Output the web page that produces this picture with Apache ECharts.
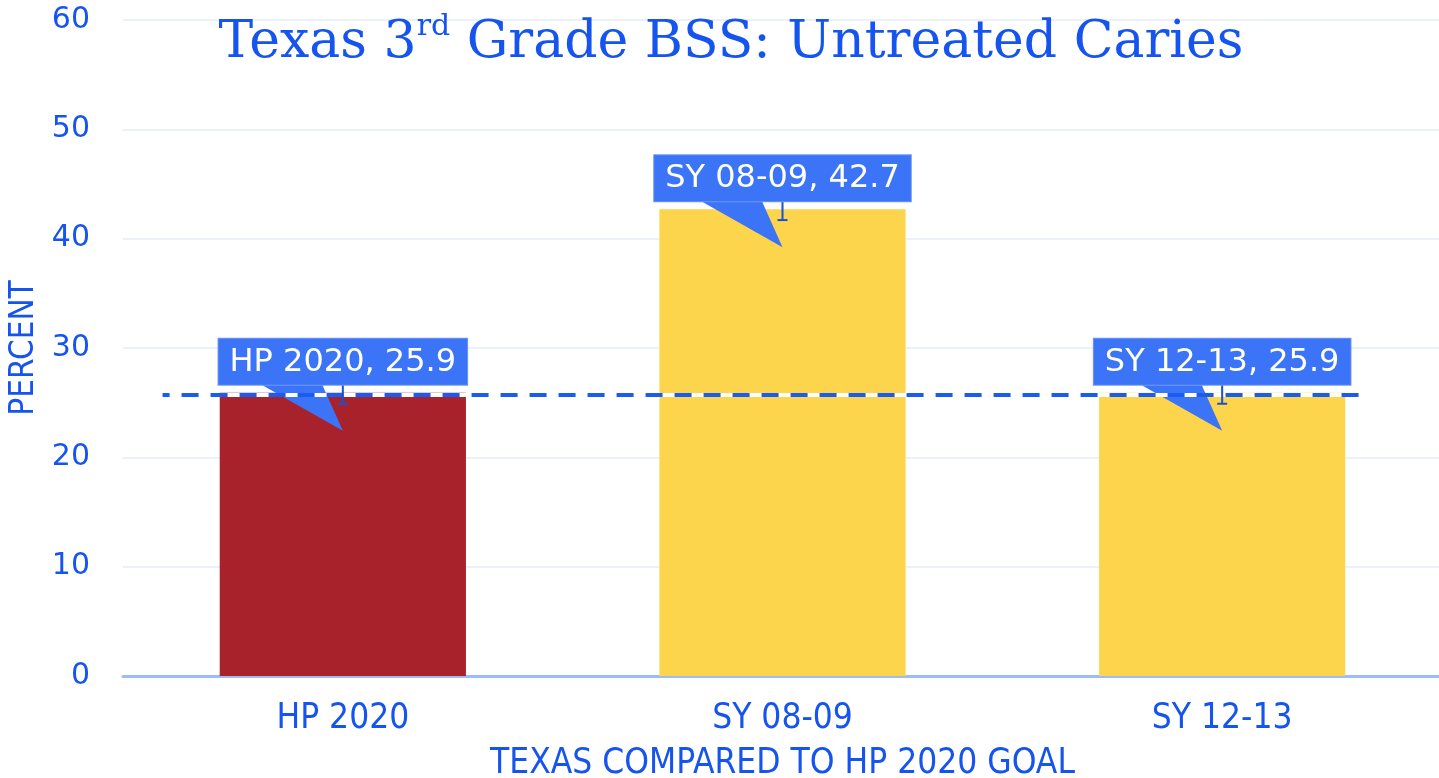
<!DOCTYPE html>
<html>
<head>
<meta charset="utf-8">
<script src="https://cdn.jsdelivr.net/npm/echarts@6/dist/echarts.min.js"></script>
<style>
  html, body { margin: 0; padding: 0; background: #fff; }
  #app { width: 1439px; height: 778px; }
</style>
</head>
<body>
<div id="app"></div>
<script>
var categories = ['HP 2020', 'SY 08-09', 'SY 12-13'];
var values = [25.9, 42.7, 25.9];
var errLow = [24.9, 41.7, 24.9];
var errHigh = [26.9, 43.7, 26.9];
var barColors = ['#a8222b', '#fdd54c', '#fdd54c'];
var goalValue = 25.7;
var goalLineX = [-0.41, 2.33];   // where the dashed goal line starts / ends (category index units)

var textBlue = '#1554ee';
var calloutBlue = '#3b74f6';

var myChart = echarts.init(document.getElementById('app'));

function renderCallout(part) {
  return function (params, api) {
    var i = api.value(0);
    var p = api.coord([i, api.value(1)]);
    if (part === 'arrow') {
      return {
        type: 'polygon',
        shape: { points: [[p[0] - 83, p[1] - 9], [p[0] - 21, p[1] - 9], [p[0], p[1] + 38]] },
        style: { fill: calloutBlue }
      };
    }
    return {
      type: 'text',
      style: {
        text: categories[i] + ', ' + values[i],
        x: p[0],
        y: p[1] - 8,
        align: 'center',
        verticalAlign: 'bottom',
        fill: '#fff',
        font: '32px "DejaVu Sans"',
        backgroundColor: calloutBlue,
        borderColor: '#6f98f7',
        borderWidth: 1,
        padding: [8, 11, 6, 11]
      }
    };
  };
}

var calloutData = values.map(function (v, i) { return [i, v]; });

myChart.setOption({
  backgroundColor: '#fff',
  animation: false,
  title: {
    left: 726,
    top: 7,
    textAlign: 'center',
    text: '{a|Texas 3}{sup|rd}{a| Grade BSS: Untreated Caries}',
    textStyle: {
      rich: {
        a: { fontFamily: '"DejaVu Serif"', fontWeight: 'normal', fontSize: 52, color: textBlue, lineHeight: 62 },
        sup: { fontFamily: '"DejaVu Serif"', fontWeight: 'normal', fontSize: 30, color: textBlue, verticalAlign: 'top', lineHeight: 62, padding: [0, 0, 22, 0] }
      }
    }
  },
  grid: { left: 123, right: -3, top: 20, bottom: 102, outerBoundsMode: 'none' },
  xAxis: [
    {
      type: 'category',
      data: categories,
      axisLine: { lineStyle: { color: '#9dbafa', width: 3 } },
      axisTick: { show: false },
      axisLabel: { color: textBlue, fontFamily: '"DejaVu Sans Condensed", "DejaVu Sans"', fontSize: 35, margin: 25 },
      name: 'TEXAS COMPARED TO HP 2020 GOAL',
      nameLocation: 'middle',
      nameGap: 70,
      nameTextStyle: { color: textBlue, fontFamily: '"DejaVu Sans Condensed", "DejaVu Sans"', fontSize: 35 }
    },
    { type: 'value', min: -0.5, max: 2.5, show: false }
  ],
  yAxis: {
    type: 'value',
    min: 0,
    max: 60,
    interval: 10,
    axisLine: { show: false },
    axisTick: { show: false },
    splitLine: { lineStyle: { color: '#ebf0fb', width: 2 } },
    axisLabel: { color: textBlue, fontFamily: '"DejaVu Sans"', fontSize: 30, margin: 33 },
    name: 'PERCENT',
    nameLocation: 'middle',
    nameGap: 80,
    nameTextStyle: { color: textBlue, fontFamily: '"DejaVu Sans Condensed", "DejaVu Sans"', fontSize: 33 }
  },
  series: [
    {
      type: 'bar',
      barWidth: '56%',
      z: 2,
      data: values.map(function (v, i) { return { value: v, itemStyle: { color: barColors[i] } }; })
    },
    {
      type: 'custom',
      z: 3,
      silent: true,
      renderItem: renderCallout('arrow'),
      data: calloutData
    },
    {
      type: 'line',
      xAxisIndex: 1,
      z: 4,
      symbol: 'none',
      silent: true,
      lineStyle: { color: '#fff', width: 4 },
      data: goalLineX.map(function (x) { return [x, goalValue]; })
    },
    {
      type: 'line',
      xAxisIndex: 1,
      z: 5,
      symbol: 'none',
      silent: true,
      lineStyle: { color: '#1a5cf0', width: 4, type: [17, 12], dashOffset: 10 },
      data: goalLineX.map(function (x) { return [x, goalValue]; })
    },
    {
      type: 'custom',
      z: 6,
      silent: true,
      renderItem: function (params, api) {
        var lo = api.coord([api.value(0), api.value(1)]);
        var hi = api.coord([api.value(0), api.value(2)]);
        var st = { stroke: '#1a4fd6', lineWidth: 2 };
        return {
          type: 'group',
          children: [
            { type: 'line', shape: { x1: lo[0], y1: lo[1], x2: hi[0], y2: hi[1] }, style: st },
            { type: 'line', shape: { x1: lo[0] - 5, y1: lo[1], x2: lo[0] + 5, y2: lo[1] }, style: st },
            { type: 'line', shape: { x1: hi[0] - 5, y1: hi[1], x2: hi[0] + 5, y2: hi[1] }, style: st }
          ]
        };
      },
      data: values.map(function (v, i) { return [i, errLow[i], errHigh[i]]; })
    },
    {
      type: 'custom',
      z: 7,
      silent: true,
      renderItem: renderCallout('box'),
      data: calloutData
    }
  ]
});
</script>
</body>
</html>
